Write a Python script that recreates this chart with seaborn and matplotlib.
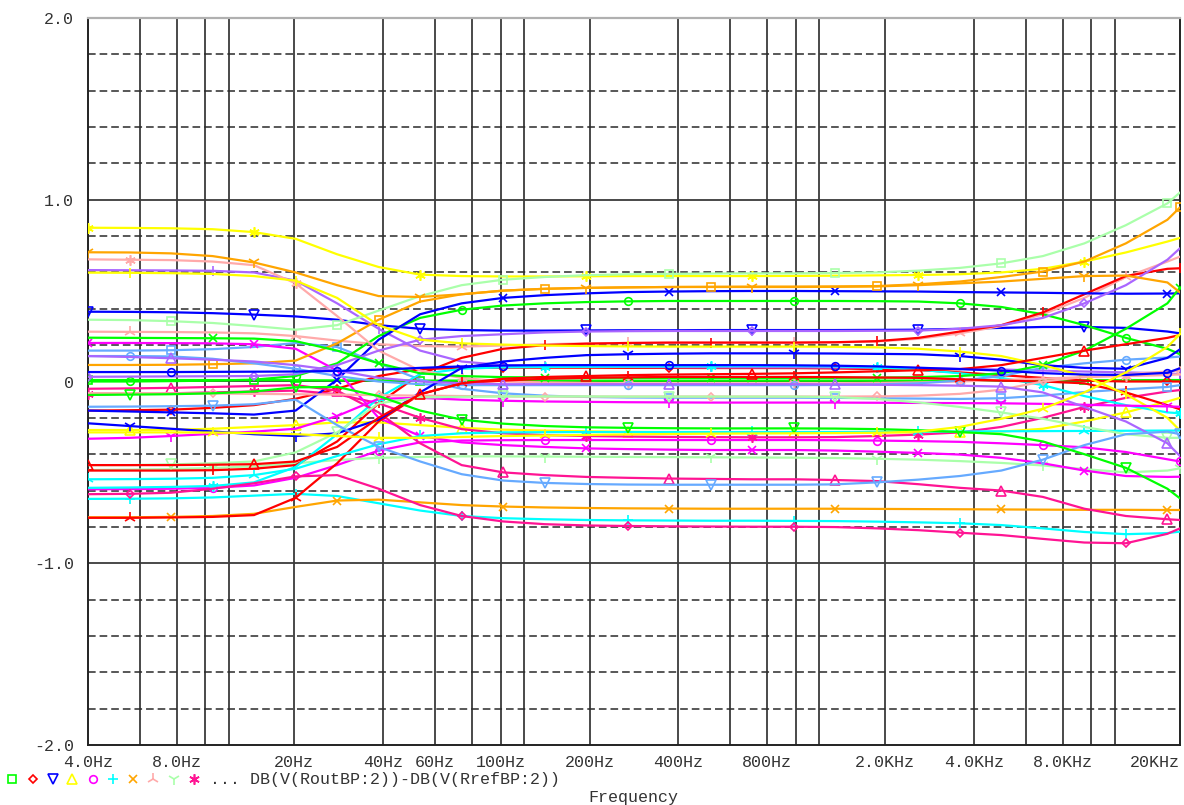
import matplotlib
matplotlib.use("Agg")
import matplotlib.pyplot as plt
from matplotlib.lines import Line2D
from matplotlib.ticker import NullLocator
import seaborn as sns

# Sweep frequencies (Hz), log-spaced analysis points
FREQ_HZ = [4.0, 5.53, 7.64, 10.57, 14.60, 20.20, 27.92, 38.59, 53.35, 73.75,
           101.9, 140.9, 194.8, 269.3, 372.2, 514.5, 711.4, 983.3, 1359, 1879,
           2598, 3591, 4964, 6862, 9486, 13113, 18127, 20000]

# DB(V(RoutBP:2))-DB(V(RrefBP:2)) for each run of the sweep (dB)
light_green_sq = [0.340, 0.338, 0.332, 0.322, 0.305, 0.285, 0.310, 0.390, 0.470, 0.530, 0.560, 0.575, 0.585, 0.590, 0.592, 0.594, 0.595, 0.595, 0.597, 0.600, 0.610, 0.625, 0.650, 0.690, 0.760, 0.860, 0.980, 1.040]
yellow_star = [0.846, 0.845, 0.843, 0.838, 0.822, 0.785, 0.700, 0.630, 0.588, 0.580, 0.578, 0.578, 0.579, 0.580, 0.580, 0.580, 0.580, 0.581, 0.582, 0.584, 0.586, 0.590, 0.600, 0.620, 0.660, 0.710, 0.770, 0.790]
orange_sq = [0.091, 0.091, 0.092, 0.095, 0.100, 0.115, 0.210, 0.340, 0.440, 0.480, 0.500, 0.510, 0.515, 0.518, 0.520, 0.521, 0.522, 0.522, 0.523, 0.525, 0.535, 0.550, 0.575, 0.605, 0.660, 0.760, 0.890, 0.958]
orange_y = [0.711, 0.710, 0.705, 0.690, 0.655, 0.600, 0.530, 0.470, 0.465, 0.480, 0.500, 0.510, 0.515, 0.518, 0.520, 0.520, 0.520, 0.520, 0.521, 0.523, 0.530, 0.540, 0.550, 0.565, 0.580, 0.583, 0.545, 0.490]
blue_x = [-0.160, -0.165, -0.170, -0.175, -0.182, -0.160, 0.010, 0.230, 0.370, 0.430, 0.460, 0.475, 0.485, 0.492, 0.495, 0.497, 0.498, 0.498, 0.497, 0.496, 0.495, 0.492, 0.490, 0.488, 0.485, 0.483, 0.484, 0.485]
green_circle = [0.000, 0.000, 0.002, 0.005, 0.010, 0.030, 0.100, 0.250, 0.350, 0.395, 0.418, 0.430, 0.437, 0.441, 0.443, 0.443, 0.443, 0.443, 0.443, 0.442, 0.440, 0.430, 0.410, 0.370, 0.310, 0.240, 0.180, 0.150]
blue_tri_down = [0.384, 0.383, 0.381, 0.376, 0.368, 0.358, 0.340, 0.310, 0.290, 0.283, 0.280, 0.280, 0.281, 0.282, 0.282, 0.283, 0.283, 0.283, 0.283, 0.284, 0.285, 0.290, 0.295, 0.300, 0.300, 0.295, 0.275, 0.265]
purple_diamond = [0.026, 0.027, 0.028, 0.029, 0.030, 0.040, 0.090, 0.170, 0.230, 0.250, 0.260, 0.270, 0.275, 0.277, 0.278, 0.278, 0.278, 0.278, 0.278, 0.279, 0.280, 0.290, 0.310, 0.350, 0.430, 0.530, 0.670, 0.733]
red_bar = [-0.490, -0.490, -0.490, -0.488, -0.480, -0.460, -0.330, -0.120, 0.040, 0.130, 0.180, 0.200, 0.208, 0.212, 0.214, 0.214, 0.214, 0.214, 0.216, 0.222, 0.240, 0.275, 0.310, 0.380, 0.480, 0.580, 0.620, 0.623]
pink_tri = [0.274, 0.273, 0.272, 0.270, 0.265, 0.250, 0.225, 0.205, 0.195, 0.192, 0.198, 0.205, 0.210, 0.212, 0.213, 0.214, 0.214, 0.214, 0.215, 0.220, 0.235, 0.265, 0.305, 0.370, 0.460, 0.575, 0.660, 0.687]
yellow_bar = [0.599, 0.598, 0.596, 0.592, 0.580, 0.555, 0.460, 0.310, 0.230, 0.210, 0.203, 0.198, 0.195, 0.193, 0.192, 0.192, 0.192, 0.192, 0.191, 0.188, 0.180, 0.165, 0.140, 0.090, 0.030, -0.070, -0.200, -0.270]
blue_y = [-0.230, -0.245, -0.260, -0.275, -0.290, -0.300, -0.285, -0.210, -0.060, 0.075, 0.110, 0.130, 0.145, 0.150, 0.153, 0.155, 0.155, 0.155, 0.154, 0.152, 0.150, 0.140, 0.120, 0.090, 0.075, 0.070, 0.130, 0.177]
blue_circle = [0.052, 0.052, 0.052, 0.053, 0.054, 0.055, 0.058, 0.065, 0.075, 0.083, 0.088, 0.090, 0.090, 0.090, 0.090, 0.090, 0.090, 0.089, 0.087, 0.083, 0.076, 0.068, 0.060, 0.046, 0.038, 0.036, 0.048, 0.073]
cyan_star = [-0.585, -0.583, -0.580, -0.575, -0.555, -0.470, -0.290, -0.090, 0.040, 0.070, 0.078, 0.080, 0.081, 0.082, 0.083, 0.084, 0.085, 0.085, 0.083, 0.078, 0.065, 0.045, 0.020, -0.020, -0.080, -0.130, -0.170, -0.175]
purple_bar = [0.613, 0.612, 0.611, 0.609, 0.600, 0.555, 0.430, 0.290, 0.170, 0.110, 0.090, 0.085, 0.082, 0.080, 0.079, 0.078, 0.078, 0.078, 0.077, 0.076, 0.074, 0.070, 0.066, 0.060, 0.055, 0.050, 0.045, 0.040]
red_diamond = [-0.160, -0.158, -0.155, -0.145, -0.130, -0.095, -0.040, 0.030, 0.068, 0.075, 0.076, 0.076, 0.076, 0.075, 0.075, 0.074, 0.074, 0.074, 0.072, 0.068, 0.063, 0.050, 0.035, 0.020, 0.005, 0.000, 0.000, 0.000]
red_tri_up = [-0.460, -0.460, -0.460, -0.458, -0.455, -0.440, -0.360, -0.200, -0.070, -0.010, 0.015, 0.025, 0.030, 0.035, 0.038, 0.040, 0.042, 0.045, 0.050, 0.056, 0.062, 0.068, 0.090, 0.130, 0.170, 0.205, 0.240, 0.256]
red_tri = [-0.750, -0.750, -0.748, -0.745, -0.735, -0.640, -0.450, -0.220, -0.070, -0.010, 0.005, 0.015, 0.020, 0.023, 0.025, 0.025, 0.025, 0.025, 0.024, 0.022, 0.020, 0.012, 0.005, 0.000, -0.010, -0.060, -0.130, -0.153]
green_sq = [0.008, 0.008, 0.008, 0.008, 0.008, 0.007, 0.006, 0.006, 0.005, 0.005, 0.005, 0.005, 0.005, 0.005, 0.005, 0.005, 0.005, 0.005, 0.005, 0.005, 0.005, 0.005, 0.006, 0.006, 0.007, 0.007, 0.008, 0.008]
green_x = [0.241, 0.240, 0.239, 0.238, 0.236, 0.222, 0.170, 0.100, 0.045, 0.030, 0.024, 0.022, 0.021, 0.020, 0.020, 0.020, 0.020, 0.020, 0.020, 0.021, 0.024, 0.030, 0.045, 0.090, 0.170, 0.290, 0.430, 0.516]
pink_star = [0.672, 0.670, 0.668, 0.660, 0.640, 0.540, 0.360, 0.170, 0.060, 0.020, 0.000, -0.005, -0.008, -0.010, -0.010, -0.010, -0.010, -0.010, -0.010, -0.008, -0.005, 0.000, 0.008, 0.016, 0.024, 0.030, 0.035, 0.040]
light_blue_circle = [0.140, 0.140, 0.138, 0.125, 0.100, 0.070, 0.030, 0.000, -0.015, -0.020, -0.020, -0.020, -0.020, -0.020, -0.020, -0.020, -0.020, -0.020, -0.019, -0.016, -0.010, 0.005, 0.030, 0.075, 0.100, 0.120, 0.132, 0.137]
purple_tri_up = [0.140, 0.135, 0.128, 0.120, 0.110, 0.090, 0.060, 0.020, 0.000, -0.010, -0.015, -0.015, -0.015, -0.015, -0.015, -0.015, -0.015, -0.015, -0.016, -0.018, -0.020, -0.023, -0.028, -0.060, -0.140, -0.220, -0.340, -0.410]
pink_diamond = [-0.064, -0.064, -0.065, -0.066, -0.068, -0.070, -0.072, -0.075, -0.078, -0.080, -0.082, -0.083, -0.083, -0.083, -0.083, -0.083, -0.083, -0.083, -0.083, -0.082, -0.078, -0.068, -0.045, 0.000, 0.025, 0.040, 0.055, 0.060]
light_blue_sq = [0.170, 0.170, 0.172, 0.178, 0.190, 0.212, 0.190, 0.100, 0.010, -0.040, -0.065, -0.078, -0.085, -0.088, -0.089, -0.089, -0.089, -0.089, -0.090, -0.092, -0.094, -0.096, -0.092, -0.078, -0.058, -0.043, -0.030, -0.020]
magenta_y = [-0.315, -0.310, -0.300, -0.288, -0.276, -0.260, -0.190, -0.095, -0.090, -0.100, -0.106, -0.110, -0.112, -0.114, -0.115, -0.116, -0.116, -0.116, -0.116, -0.117, -0.118, -0.119, -0.120, -0.123, -0.128, -0.133, -0.137, -0.139]
green_tri_down = [-0.074, -0.072, -0.070, -0.065, -0.055, -0.032, -0.030, -0.080, -0.160, -0.210, -0.232, -0.245, -0.252, -0.255, -0.257, -0.258, -0.258, -0.258, -0.259, -0.262, -0.268, -0.278, -0.290, -0.330, -0.400, -0.475, -0.590, -0.643]
yellow_tri_up = [-0.267, -0.267, -0.266, -0.260, -0.250, -0.240, -0.225, -0.225, -0.240, -0.255, -0.265, -0.270, -0.274, -0.277, -0.279, -0.280, -0.280, -0.280, -0.280, -0.280, -0.280, -0.280, -0.276, -0.260, -0.220, -0.170, -0.110, -0.090]
yellow_tri = [-0.280, -0.280, -0.280, -0.281, -0.284, -0.290, -0.300, -0.310, -0.310, -0.305, -0.300, -0.297, -0.294, -0.291, -0.289, -0.287, -0.286, -0.285, -0.284, -0.282, -0.276, -0.250, -0.205, -0.150, -0.060, 0.050, 0.190, 0.260]
cyan_tri = [-0.538, -0.537, -0.535, -0.530, -0.515, -0.480, -0.410, -0.345, -0.300, -0.285, -0.280, -0.279, -0.278, -0.278, -0.278, -0.278, -0.278, -0.278, -0.278, -0.277, -0.276, -0.275, -0.274, -0.273, -0.272, -0.271, -0.270, -0.270]
deep_pink_star = [-0.070, -0.068, -0.065, -0.060, -0.055, -0.050, -0.070, -0.120, -0.200, -0.262, -0.285, -0.295, -0.300, -0.303, -0.305, -0.306, -0.307, -0.307, -0.306, -0.300, -0.292, -0.280, -0.250, -0.200, -0.140, -0.090, -0.055, -0.047]
magenta_circle = [-0.593, -0.592, -0.590, -0.585, -0.572, -0.530, -0.460, -0.380, -0.335, -0.325, -0.323, -0.322, -0.322, -0.322, -0.322, -0.322, -0.322, -0.322, -0.323, -0.325, -0.328, -0.332, -0.340, -0.350, -0.362, -0.388, -0.428, -0.440]
magenta_x = [0.212, 0.212, 0.211, 0.210, 0.205, 0.180, 0.060, -0.200, -0.300, -0.335, -0.350, -0.360, -0.368, -0.372, -0.375, -0.377, -0.377, -0.377, -0.380, -0.386, -0.393, -0.402, -0.420, -0.450, -0.490, -0.520, -0.525, -0.524]
light_green_y = [-0.487, -0.485, -0.482, -0.476, -0.466, -0.450, -0.432, -0.420, -0.415, -0.412, -0.412, -0.413, -0.414, -0.415, -0.416, -0.417, -0.418, -0.419, -0.421, -0.425, -0.430, -0.438, -0.448, -0.462, -0.482, -0.500, -0.490, -0.478]
light_green_tri_down = [-0.460, -0.460, -0.456, -0.450, -0.440, -0.390, -0.280, -0.120, -0.088, -0.084, -0.082, -0.082, -0.082, -0.083, -0.083, -0.083, -0.083, -0.083, -0.086, -0.096, -0.115, -0.140, -0.170, -0.205, -0.250, -0.290, -0.310, -0.310]
deep_pink_tri_up = [-0.040, -0.038, -0.035, -0.030, -0.025, -0.020, -0.050, -0.170, -0.340, -0.460, -0.500, -0.515, -0.525, -0.530, -0.534, -0.536, -0.538, -0.538, -0.542, -0.548, -0.565, -0.585, -0.600, -0.635, -0.700, -0.740, -0.758, -0.762]
light_blue_tri_down = [-0.139, -0.138, -0.136, -0.133, -0.125, -0.100, -0.240, -0.360, -0.440, -0.510, -0.545, -0.558, -0.564, -0.567, -0.568, -0.568, -0.568, -0.568, -0.566, -0.555, -0.540, -0.520, -0.490, -0.430, -0.350, -0.290, -0.276, -0.290]
orange_x = [-0.747, -0.747, -0.745, -0.740, -0.728, -0.690, -0.655, -0.650, -0.665, -0.680, -0.688, -0.693, -0.696, -0.698, -0.699, -0.700, -0.700, -0.700, -0.700, -0.701, -0.702, -0.703, -0.704, -0.705, -0.706, -0.706, -0.707, -0.707]
cyan_plus = [-0.646, -0.645, -0.643, -0.638, -0.628, -0.618, -0.630, -0.670, -0.710, -0.740, -0.752, -0.758, -0.762, -0.764, -0.765, -0.766, -0.766, -0.767, -0.768, -0.771, -0.775, -0.780, -0.790, -0.808, -0.828, -0.840, -0.834, -0.826]
deep_pink_diamond = [-0.620, -0.618, -0.612, -0.590, -0.560, -0.522, -0.515, -0.590, -0.680, -0.740, -0.770, -0.785, -0.792, -0.795, -0.797, -0.798, -0.799, -0.799, -0.801, -0.808, -0.818, -0.832, -0.845, -0.866, -0.886, -0.890, -0.838, -0.808]

# Axis ticks and labels
TICK_HZ = [4, 8, 20, 40, 60, 100, 200, 400, 800, 2000, 4000, 8000, 20000]
TICK_LABELS = ["4.0Hz", "8.0Hz", "20Hz", "40Hz", "60Hz", "100Hz", "200Hz",
               "400Hz", "800Hz", "2.0KHz", "4.0KHz", "8.0KHz", "20KHz"]
Y_TICKS = [-2.0, -1.0, 0.0, 1.0, 2.0]
Y_LABELS = ["-2.0", "-1.0", "0", "1.0", "2.0"]
V_GRID_HZ = [6, 8, 10, 12, 20, 40, 60, 80, 100, 120, 200, 400, 600, 800, 1000,
             1200, 2000, 4000, 6000, 8000, 10000, 12000]
H_DASHED = [-1.8, -1.6, -1.4, -1.2, -0.8, -0.6, -0.4, -0.2,
            0.2, 0.4, 0.6, 0.8, 1.2, 1.4, 1.6, 1.8]
H_SOLID = [-1.0, 0.0, 1.0]
TRACE_NAME = "DB(V(RoutBP:2))-DB(V(RrefBP:2))"

# Probe trace colours
GREEN, RED, BLUE, YELLOW = "#00ff00", "#ff0000", "#0000ff", "#ffff00"
MAGENTA, CYAN, ORANGE, PINK = "#ff00ff", "#00ffff", "#ffa500", "#ffaaaa"
LIGHT_GREEN, DEEP_PINK, PURPLE, LIGHT_BLUE = "#aaffaa", "#ff1493", "#aa66ff", "#66aaff"
ASTERISK = (6, 2, 0)

MARKER_SIZE = {"s": 5.5, "D": 4.5, "v": 6.5, "^": 6.5, "o": 5.5, "+": 7.5,
               "x": 6.0, "1": 8.5, "2": 8.5, "|": 7.5, ASTERISK: 7.5}

traces = [
    (green_sq, GREEN, "s", 0), (red_diamond, RED, "D", 2), (blue_tri_down, BLUE, "v", 0),
    (yellow_tri_up, YELLOW, "^", 1), (magenta_circle, MAGENTA, "o", 3), (cyan_plus, CYAN, "+", 1),
    (orange_x, ORANGE, "x", 2), (pink_tri, PINK, "2", 1), (light_green_y, LIGHT_GREEN, "1", 3),
    (deep_pink_star, DEEP_PINK, ASTERISK, 0), (purple_bar, PURPLE, "|", 3), (light_blue_sq, LIGHT_BLUE, "s", 2),
    (green_circle, GREEN, "o", 1), (red_bar, RED, "|", 3), (blue_x, BLUE, "x", 2),
    (yellow_star, YELLOW, ASTERISK, 0), (magenta_x, MAGENTA, "x", 0), (cyan_star, CYAN, ASTERISK, 3),
    (orange_sq, ORANGE, "s", 3), (pink_star, PINK, ASTERISK, 1), (light_green_sq, LIGHT_GREEN, "s", 2),
    (deep_pink_tri_up, DEEP_PINK, "^", 2), (purple_diamond, PURPLE, "D", 0), (light_blue_circle, LIGHT_BLUE, "o", 1),
    (green_x, GREEN, "x", 3), (red_tri, RED, "2", 1), (blue_y, BLUE, "1", 1),
    (yellow_bar, YELLOW, "|", 1), (magenta_y, MAGENTA, "1", 2), (cyan_tri, CYAN, "2", 0),
    (orange_y, ORANGE, "1", 0), (pink_diamond, PINK, "D", 3), (light_green_tri_down, LIGHT_GREEN, "v", 2),
    (deep_pink_diamond, DEEP_PINK, "D", 1), (purple_tri_up, PURPLE, "^", 2), (light_blue_tri_down, LIGHT_BLUE, "v", 3),
    (green_tri_down, GREEN, "v", 1), (red_tri_up, RED, "^", 0), (blue_circle, BLUE, "o", 2),
    (yellow_tri, YELLOW, "2", 3),
]

sns.set_style("white")
MONO = ["Liberation Mono", "DejaVu Sans Mono"]
plt.rcParams["font.family"] = MONO

W, H = 1184, 805
fig = plt.figure(figsize=(W / 100, H / 100), dpi=100)
ax = fig.add_axes([88 / W, 1 - 745 / H, (1180 - 88) / W, (745 - 18) / H])
ax.set_xscale("log")

# grid
for f in V_GRID_HZ:
    ax.axvline(f, color="#3a3a3a", lw=1.3, zorder=1)
for v in H_DASHED:
    ax.axhline(v, color="#2a2a2a", lw=1.1, ls=(0, (5, 2.6)), zorder=1)
for v in H_SOLID:
    ax.axhline(v, color="#3a3a3a", lw=1.3, zorder=1)

# traces
for vals, col, mk, phase in traces:
    sns.lineplot(x=FREQ_HZ, y=vals, ax=ax, color=col, lw=1.6, sort=False,
                 errorbar=None, legend=False, marker=mk,
                 markevery=slice(phase, None, 4), ms=MARKER_SIZE[mk],
                 mfc="none", mec=col, mew=1.2, zorder=3)

ax.set_xlim(4, 20000)
ax.set_ylim(-2.0, 2.0)
ax.set_xticks(TICK_HZ)
ax.set_xticklabels(TICK_LABELS)
ax.xaxis.set_minor_locator(NullLocator())
ax.set_yticks(Y_TICKS)
ax.set_yticklabels(Y_LABELS)
ax.set_xlabel("")
ax.set_ylabel("")
ax.tick_params(axis="x", direction="out", length=5, width=1.2, pad=2,
               labelsize=12, color="#222222", labelcolor="#333333")
ax.tick_params(axis="y", direction="inout", length=12, width=1.2, pad=4,
               labelsize=12, color="#222222", labelcolor="#333333")
# last frequency label sits flush against the right edge of the plot
ax.get_xticklabels()[-1].set_horizontalalignment("right")
for side in ("left", "bottom", "right"):
    ax.spines[side].set_color("#222222")
    ax.spines[side].set_linewidth(1.4)
ax.spines["top"].set_color("#b0b0b0")
ax.spines["top"].set_linewidth(1.6)

# trace legend row
legend_x = [11.5, 32.5, 52.8, 71.6, 93, 113, 132.8, 153, 174, 194]
legend_y = 1 - 779 / H
for (vals, col, mk, phase), lx in zip(traces[:10], legend_x):
    fig.add_artist(Line2D([lx / W], [legend_y], transform=fig.transFigure,
                          marker=mk, ms=MARKER_SIZE[mk], mfc="none", mec=col,
                          mew=1.2, ls="none"))
fig.text(210 / W, legend_y, "... " + TRACE_NAME, ha="left", va="center",
         fontsize=12, color="#333333")
fig.text(633 / W, 1 - 797 / H, "Frequency", ha="center", va="center",
         fontsize=12, color="#333333")

fig.savefig("out.png", dpi=100, facecolor="white")
